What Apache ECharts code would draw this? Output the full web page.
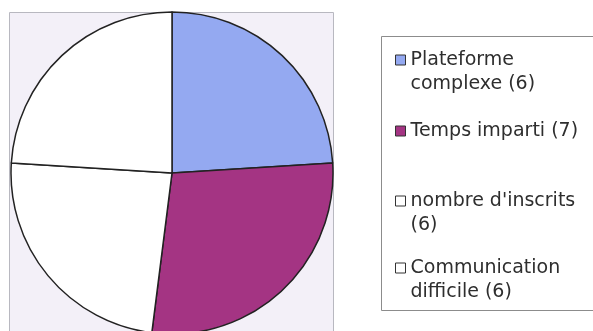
<!DOCTYPE html>
<html>
<head>
<meta charset="utf-8">
<script src="https://cdn.jsdelivr.net/npm/echarts@6/dist/echarts.min.js"></script>
<style>
  html, body { margin: 0; padding: 0; background: #ffffff; }
  #chart { width: 593px; height: 331px; }
</style>
</head>
<body>
<div id="chart"></div>
<script>
// ---- data ----
const categories = ['Plateforme complexe', 'Temps imparti', "nombre d'inscrits", 'Communication difficile'];
const values = [6, 7, 6, 6];
const legendLabels = ['Plateforme\ncomplexe (6)', 'Temps imparti (7)', "nombre d'inscrits\n(6)", 'Communication\ndifficile (6)'];

// ---- styles ----
const colors = ['#94a9f1', '#a43483', '#ffffff', '#ffffff'];
const legendTops = [24, 119, 165, 232];
const FONT = 'DejaVu Sans';
const LINE_H = 24;

const chart = echarts.init(document.getElementById('chart'), null, { renderer: 'canvas' });

const legends = categories.map((name, i) => {
  const label = legendLabels[i];
  const multi = label.indexOf('\n') >= 0;
  return {
    data: [name],
    orient: 'vertical',
    left: 395,
    top: legendTops[i],
    padding: 0,
    itemWidth: 10,
    itemHeight: 10,
    icon: 'rect',
    selectedMode: false,
    itemStyle: { borderColor: '#333333', borderWidth: 1 },
    // a leading empty line keeps the first text line level with the marker
    formatter: () => (multi ? '\n' + label : label),
    textStyle: {
      fontFamily: FONT,
      fontSize: 19,
      color: '#2e2e2e',
      lineHeight: LINE_H
    }
  };
});

chart.setOption({
  animation: false,
  backgroundColor: '#ffffff',
  graphic: [
    {
      type: 'rect', z: -10, silent: true,
      shape: { x: 9.5, y: 12.5, width: 324, height: 330 },
      style: { fill: '#f3f0f8', stroke: '#b8b8c0', lineWidth: 1 }
    },
    {
      type: 'rect', z: -10, silent: true,
      shape: { x: 381.5, y: 36.5, width: 240, height: 274 },
      style: { fill: '#ffffff', stroke: '#8c8c8c', lineWidth: 1 }
    }
  ],
  legend: legends,
  series: [{
    type: 'pie',
    center: [172, 173],
    radius: 161,
    startAngle: 90,
    clockwise: true,
    label: { show: false },
    labelLine: { show: false },
    emphasis: { disabled: true },
    itemStyle: { borderColor: '#222222', borderWidth: 1.5 },
    data: categories.map((name, i) => ({
      name: name,
      value: values[i],
      itemStyle: { color: colors[i] }
    }))
  }]
});
</script>
</body>
</html>
